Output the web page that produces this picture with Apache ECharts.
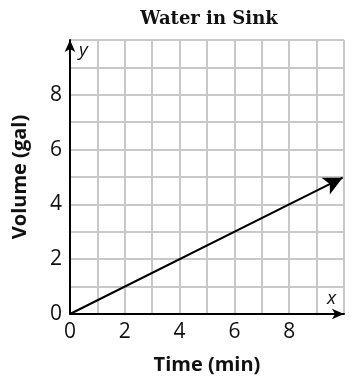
<!DOCTYPE html>
<html><head><meta charset="utf-8">
<script src="https://cdn.jsdelivr.net/npm/echarts@6/dist/echarts.min.js"></script>
<style>html,body{margin:0;padding:0;background:#fff}#c{width:360px;height:380px}</style>
</head><body><div id="c"></div>
<script>
const chartTitle = 'Water in Sink';
const xName = 'Time (min)';
const yName = 'Volume (gal)';
const xTicks = [0, 2, 4, 6, 8];
const yTicks = [0, 2, 4, 6, 8];
const timeMin = [0, 9.95];
const volumeGal = [0, 4.975];

const chart = echarts.init(document.getElementById('c'), null, {renderer: 'canvas'});
const labelFont = {fontFamily: 'Open Sans', fontSize: 21, color: '#111'};
const nameFont = {fontFamily: 'Open Sans', fontWeight: 'bold', fontSize: 20, color: '#111'};
const pts = timeMin.map((t, i) => ({
  value: [t, volumeGal[i]],
  symbol: i === timeMin.length - 1 ? 'arrow' : 'none',
  symbolSize: [14, 19],
  symbolRotate: -63.43
}));
chart.setOption({
  animation: false,
  title: {
    text: chartTitle, left: 204, top: 5, textAlign: 'center',
    textStyle: {fontFamily: 'DejaVu Serif', fontWeight: 'bold', fontSize: 18, color: '#111'}
  },
  grid: {left: 70, right: 16, top: 40, bottom: 66},
  xAxis: {
    type: 'value', min: 0, max: 10, interval: 1,
    name: xName, nameLocation: 'middle', nameGap: 41,
    nameTextStyle: nameFont,
    axisLine: {show: true, onZero: false, symbol: ['none', 'arrow'], symbolSize: [8, 12], lineStyle: {color: '#000', width: 2}},
    axisTick: {show: false},
    axisLabel: Object.assign({margin: 8, formatter: v => xTicks.includes(v) ? String(v) : ''}, labelFont),
    splitLine: {show: true, lineStyle: {color: '#c8c8c8', width: 2}}
  },
  yAxis: {
    type: 'value', min: 0, max: 10, interval: 1,
    name: yName, nameLocation: 'middle', nameGap: 40,
    nameTextStyle: nameFont,
    axisLine: {show: true, onZero: false, symbol: ['none', 'arrow'], symbolSize: [8, 12], lineStyle: {color: '#000', width: 2}},
    axisTick: {show: false},
    axisLabel: Object.assign({margin: 8, formatter: v => yTicks.includes(v) ? String(v) : ''}, labelFont),
    splitLine: {show: true, lineStyle: {color: '#c8c8c8', width: 2}}
  },
  graphic: [
    {type: 'text', left: 79, top: 41, style: {text: 'y', font: 'italic 19px "Open Sans"', fill: '#111'}},
    {type: 'text', left: 327, top: 289, style: {text: 'x', font: 'italic 19px "Open Sans"', fill: '#111'}}
  ],
  series: [{
    type: 'line', data: pts, showSymbol: true,
    lineStyle: {color: '#000', width: 2},
    itemStyle: {color: '#000'}
  }]
});
</script></body></html>
